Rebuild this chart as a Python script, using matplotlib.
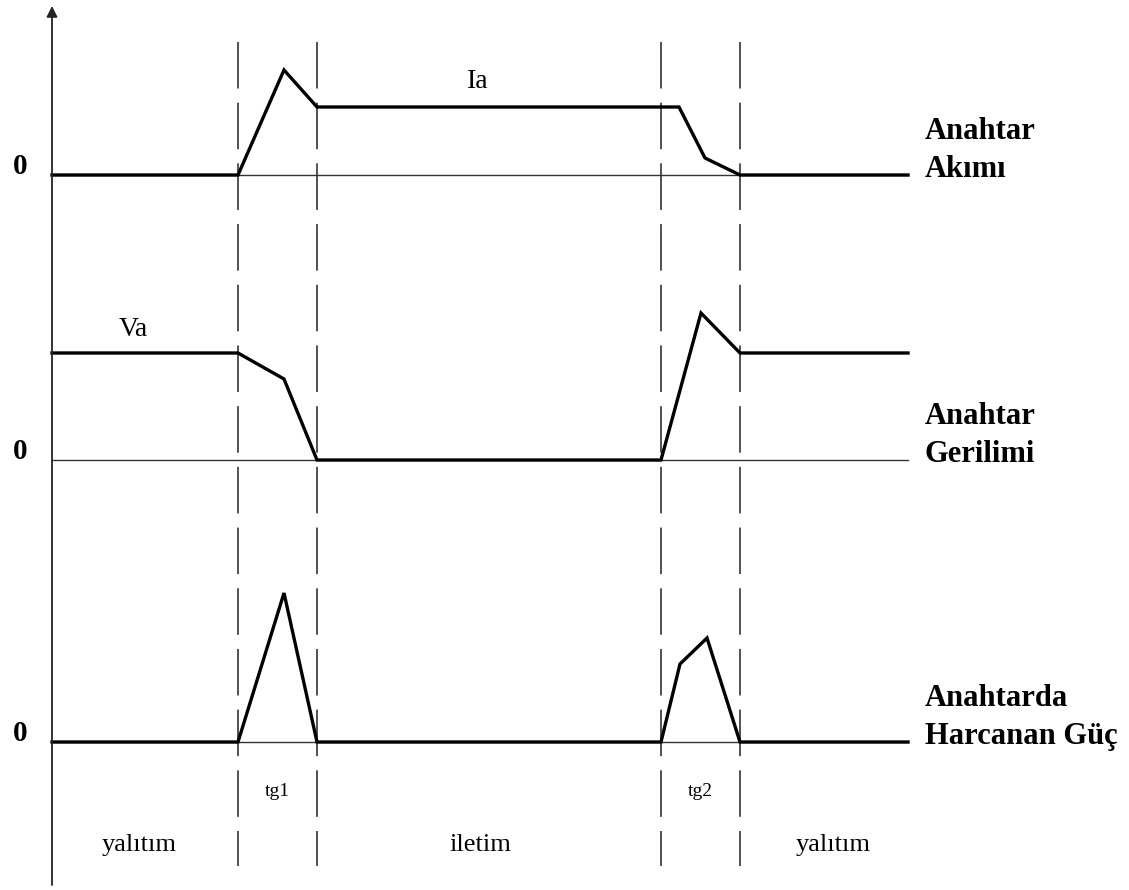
import matplotlib
matplotlib.use("Agg")
import matplotlib.pyplot as plt

# switching waveforms, time in arbitrary units (switch-on at 18.6, switch-off at 60.9)
t_edges = [18.6, 26.5, 60.9, 68.8]
t_end = 85.6

# switch current
t_i = [0, 18.6, 23.2, 26.5, 62.7, 65.3, 68.8, 85.6]
i_a = [0, 0, 10.5, 6.8, 6.8, 1.7, 0, 0]

# switch voltage
t_v = [0, 18.6, 23.2, 26.5, 60.9, 64.9, 68.8, 85.6]
v_a = [10.7, 10.7, 8.1, 0, 0, 14.7, 10.7, 10.7]

# dissipated power
t_p = [0, 18.6, 23.2, 26.5, 60.9, 62.8, 65.5, 68.8, 85.6]
p_a = [0, 0, 14.9, 0, 0, 7.8, 10.4, 0, 0]

traces = [(t_i, i_a), (t_v, v_a), (t_p, p_a)]
right_labels = [("Anahtar", "Akımı"), ("Anahtar", "Gerilimi"),
                ("Anahtarda", "Harcanan Güç")]
interval_labels = ["yalıtım", "iletim", "yalıtım"]
switch_labels = ["tg1", "tg2"]

# vertical position of each zero line
offsets = [71.5, 43.0, 14.8]

plt.rcParams['lines.scale_dashes'] = False
fig = plt.figure(figsize=(11.29, 8.90), dpi=100)
ax = fig.add_axes([0, 0, 1, 1])
ax.set_xlim(-5.2, 107.7)
ax.set_ylim(0, 89)
ax.axis('off')

serif = 'Liberation Serif'

# y axis with arrow
ax.annotate('', xy=(0, 88.4), xytext=(0, 0.5),
            arrowprops=dict(arrowstyle='-|>', lw=1.3, color='#222222',
                            mutation_scale=16, shrinkA=0, shrinkB=0))

# dashed switching instants
for te in t_edges:
    ax.plot([te, te], [84.8, 2.4], color='#222222', lw=1.1,
            dashes=(33.5, 10.2))

for (tt, yy), off, (l1, l2) in zip(traces, offsets, right_labels):
    ax.plot([0, t_end], [off, off], color='#333333', lw=1.0)
    ax.plot(tt, [off + y for y in yy], color='black', lw=2.4,
            solid_joinstyle='miter')
    ax.text(-3.2, off + 0.1, '0', family=serif, weight='bold', fontsize=21,
            ha='center', va='baseline')
    ax.text(87.3, off + 3.6, l1, family=serif, weight='bold', fontsize=22,
            ha='left', va='baseline')
    ax.text(87.3, off - 0.2, l2, family=serif, weight='bold', fontsize=22,
            ha='left', va='baseline')

ax.text(42.6, 80.8, 'Ia', family=serif, fontsize=20, ha='center', va='center')
ax.text(8.1, 56.0, 'Va', family=serif, fontsize=20, ha='center', va='center')

# switching interval names
for (a, b), lab in zip([(t_edges[0], t_edges[1]), (t_edges[2], t_edges[3])],
                       switch_labels):
    ax.text((a + b) / 2, 9.9, lab, family=serif, fontsize=14,
            ha='center', va='center')

# state names below the axis
for cx, lab in zip([8.7, 42.8, 78.1], interval_labels):
    ax.text(cx, 4.5, lab, family=serif, fontsize=19, ha='center', va='center')

fig.savefig('out.png', dpi=100, facecolor='white')
